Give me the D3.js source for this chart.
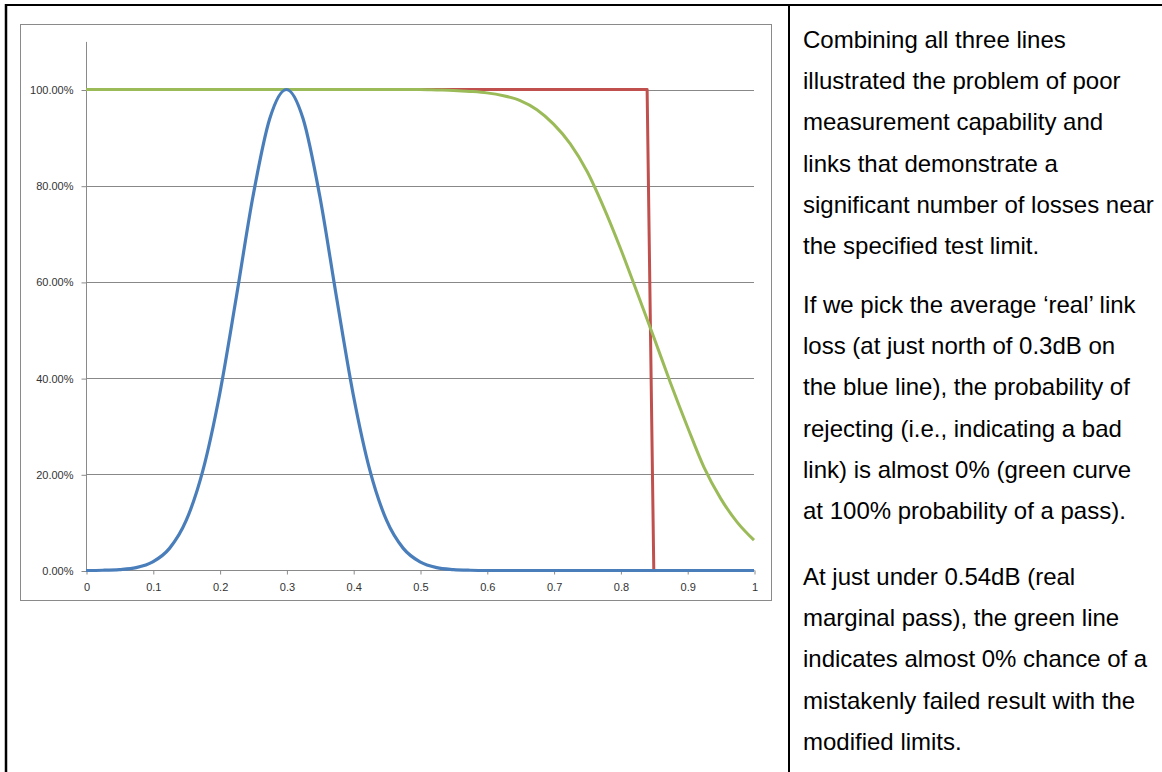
<!DOCTYPE html>
<html>
<head>
<meta charset="utf-8">
<script src="https://cdn.jsdelivr.net/npm/d3@7"></script>
<style>
  html, body { margin: 0; padding: 0; background: #fff; }
  svg { display: block; }
</style>
</head>
<body>
<svg id="chart" width="1162" height="772"></svg>
<script>
// ---- data ----
const xValues = [0,0.025,0.05,0.075,0.1,0.125,0.15,0.175,0.2,0.225,0.25,0.275,0.3,0.325,0.35,0.375,0.4,0.425,0.45,0.475,0.5,0.525,0.55,0.575,0.6,0.625,0.65,0.675,0.7,0.725,0.75,0.775,0.8,0.825,0.85,0.875,0.9,0.925,0.95,0.975,1];
const blueValues = [0,0.0005,0.002,0.006,0.018,0.046,0.104,0.208,0.366,0.568,0.778,0.939,1.0,0.939,0.778,0.568,0.366,0.208,0.104,0.046,0.018,0.006,0.002,0.0005,0,0,0,0,0,0,0,0,0,0,0,0,0,0,0,0,0];
const greenValues = [1,1,1,1,1,1,1,1,1,1,1,1,1,1,1,1,1,1,1,1,1.0,0.999,0.998,0.996,0.993,0.987,0.977,0.958,0.928,0.887,0.830,0.755,0.670,0.578,0.485,0.390,0.300,0.215,0.150,0.100,0.063];
const redX = [0, 0.84, 0.85];
const redValues = [1, 1, 0];
const xTicks = [0,0.1,0.2,0.3,0.4,0.5,0.6,0.7,0.8,0.9,1];
const yTicks = [0,0.2,0.4,0.6,0.8,1.0];
const paragraphs = [
  ["Combining all three lines","illustrated the problem of poor","measurement capability and","links that demonstrate a","significant number of losses near","the specified test limit."],
  ["If we pick the average \u2018real\u2019 link","loss (at just north of 0.3dB on","the blue line), the probability of","rejecting (i.e., indicating a bad","link) is almost 0% (green curve","at 100% probability of a pass)."],
  ["At just under 0.54dB (real","marginal pass), the green line","indicates almost 0% chance of a","mistakenly failed result with the","modified limits."]
];
const paragraphStarts = [48, 313, 585];

const svg = d3.select("#chart");

// table borders
svg.append("line").attr("x1",5).attr("x2",1162).attr("y1",5).attr("y2",5).attr("stroke","#000").attr("stroke-width",2);
svg.append("line").attr("x1",6).attr("x2",6).attr("y1",4).attr("y2",772).attr("stroke","#000").attr("stroke-width",2.5);
svg.append("line").attr("x1",789).attr("x2",789).attr("y1",4).attr("y2",772).attr("stroke","#000").attr("stroke-width",2);

// chart frame
svg.append("rect").attr("x",20.5).attr("y",24.5).attr("width",751).attr("height",576)
  .attr("fill","#fff").attr("stroke","#8a8a8a").attr("stroke-width",1);

const x = d3.scaleLinear().domain([0,1]).range([86,754]);
const y = d3.scaleLinear().domain([0,1.1]).range([570.5,41.4]);

// gridlines
svg.append("g").selectAll("line").data(yTicks.filter(d => d > 0)).join("line")
  .attr("x1",x(0)).attr("x2",x(1))
  .attr("y1",d => Math.round(y(d))+0.5).attr("y2",d => Math.round(y(d))+0.5)
  .attr("stroke","#888").attr("stroke-width",1);

// y axis
const yAxis = d3.axisLeft(y).tickValues(yTicks).tickSize(5).tickPadding(8)
  .tickFormat(d => (d*100).toFixed(2) + "%");
const gy = svg.append("g").attr("transform","translate(86.5,0.5)").call(yAxis);
gy.select(".domain").attr("stroke","#8a8a8a").attr("d","M0," + y(1.1) + "V" + y(0));
gy.selectAll(".tick line").attr("stroke","#8a8a8a");
gy.selectAll("text").attr("font-family","'Liberation Sans', Arial, sans-serif").attr("font-size",11).attr("fill","#333");

// x axis
const xAxis = d3.axisBottom(x).tickValues(xTicks).tickSize(4).tickPadding(9)
  .tickFormat(d => d3.format("")(d));
const gx = svg.append("g").attr("transform","translate(0.5," + (y(0)) + ")").call(xAxis);
gx.select(".domain").attr("stroke","#8a8a8a").attr("d","M" + x(0) + ",0H" + x(1));
gx.selectAll(".tick line").attr("stroke","#8a8a8a");
gx.selectAll("text").attr("font-family","'Liberation Sans', Arial, sans-serif").attr("font-size",11).attr("fill","#333");

// series
const redData = redX.map((d,i) => [d, redValues[i]]);
const greenData = xValues.map((d,i) => [d, greenValues[i]]);
const blueData = xValues.map((d,i) => [d, blueValues[i]]);

const lineLinear = d3.line().x(d => x(d[0])).y(d => y(d[1]));
const lineSmooth = d3.line().x(d => x(d[0])).y(d => y(d[1])).curve(d3.curveMonotoneX);

svg.append("path").datum(redData).attr("d",lineLinear)
  .attr("fill","none").attr("stroke","#c0504d").attr("stroke-width",3).attr("stroke-linejoin","round");
svg.append("path").datum(greenData).attr("d",lineSmooth)
  .attr("fill","none").attr("stroke","#9bbb59").attr("stroke-width",3).attr("stroke-linejoin","round");
svg.append("path").datum(blueData).attr("d",lineSmooth)
  .attr("fill","none").attr("stroke","#4a7ebb").attr("stroke-width",3.2).attr("stroke-linejoin","round");

// right-hand text
const textG = svg.append("g").attr("font-family","'Liberation Sans', Arial, sans-serif")
  .attr("font-size",24).attr("fill","#000");
const lineH = 41.2;
paragraphs.forEach((p, pi) => {
  p.forEach((t, li) => {
    textG.append("text").attr("x",803).attr("y",paragraphStarts[pi] + li*lineH).text(t);
  });
});
</script>
</body>
</html>
